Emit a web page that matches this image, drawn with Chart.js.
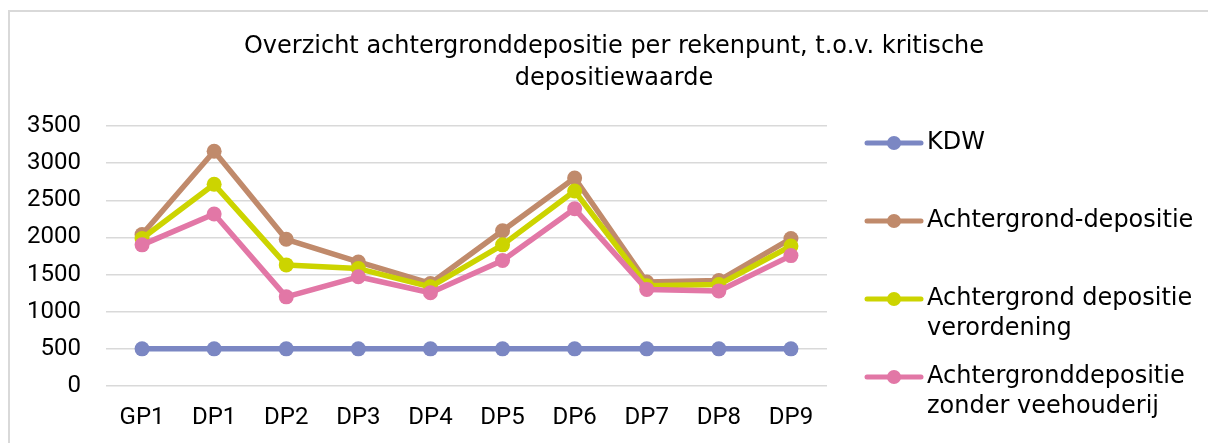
<!DOCTYPE html>
<html>
<head>
<meta charset="utf-8">
<script src="https://cdn.jsdelivr.net/npm/chart.js@4/dist/chart.umd.min.js"></script>
<style>
    body { margin: 0; background: #fff; overflow: hidden; }
    #frame {
        position: absolute; left: 8px; top: 10px;
        width: 1220px; height: 440px;
        border-left: 2px solid #d9d9d9; border-top: 2px solid #d9d9d9;
    }
    #wrap { position: absolute; left: 0; top: 0; width: 1208px; height: 431px; }
</style>
</head>
<body>
<div id="frame"><div id="wrap"><canvas id="grafiek"></canvas></div></div>
<script>
const rekenpunten = ['GP1', 'DP1', 'DP2', 'DP3', 'DP4', 'DP5', 'DP6', 'DP7', 'DP8', 'DP9'];
const kdw = [500, 500, 500, 500, 500, 500, 500, 500, 500, 500];
const achtergrond = [2040, 3160, 1975, 1670, 1380, 2090, 2800, 1400, 1420, 1985];
const verordening = [1985, 2715, 1630, 1580, 1335, 1900, 2625, 1350, 1365, 1885];
const zonderVeehouderij = [1900, 2315, 1200, 1470, 1255, 1690, 2385, 1300, 1280, 1755];
const seriesNames = ['KDW', 'Achtergrond-depositie', 'Achtergrond depositie\nverordening', 'Achtergronddepositie\nzonder veehouderij'];
const kleuren = ['#7b87c3', '#c08a6b', '#ccd400', '#e277a6'];
const yTicks = [0, 500, 1000, 1500, 2000, 2500, 3000, 3500];

const tekstFont = '"DejaVu Sans", sans-serif';

const reeksen = [kdw, achtergrond, verordening, zonderVeehouderij];
const datasets = reeksen.map((data, i) => ({
    label: seriesNames[i].replace('\n', ' '),
    data: data,
    borderColor: kleuren[i],
    backgroundColor: kleuren[i],
    pointBackgroundColor: kleuren[i],
    pointBorderColor: kleuren[i],
    borderWidth: 5.5,
    borderJoinStyle: 'round',
    borderCapStyle: 'round',
    pointRadius: 7.5,
    pointBorderWidth: 0,
    tension: 0,
    order: reeksen.length - 1 - i
}));

// legenda zelf tekenen, want die heeft regels over twee lijnen
const legendaPlugin = {
    id: 'legenda',
    afterDraw(chart) {
        const ctx = chart.ctx;
        const x0 = chart.chartArea.right + 40;
        let y = chart.chartArea.top + 17;
        ctx.save();
        ctx.font = '24px ' + tekstFont;
        ctx.textBaseline = 'middle';
        chart.data.datasets.forEach((ds, i) => {
            ctx.strokeStyle = kleuren[i];
            ctx.lineWidth = 5;
            ctx.lineCap = 'round';
            ctx.beginPath();
            ctx.moveTo(x0, y);
            ctx.lineTo(x0 + 54, y);
            ctx.stroke();
            ctx.fillStyle = kleuren[i];
            ctx.beginPath();
            ctx.arc(x0 + 27, y, 7, 0, Math.PI * 2);
            ctx.fill();
            ctx.fillStyle = '#000';
            seriesNames[i].split('\n').forEach((regel, j) => {
                ctx.fillText(regel, x0 + 60, y + j * 30);
            });
            y += 78;
        });
        ctx.restore();
    }
};

new Chart(document.getElementById('grafiek'), {
    type: 'line',
    data: { labels: rekenpunten, datasets: datasets },
    plugins: [legendaPlugin],
    options: {
        responsive: true,
        maintainAspectRatio: false,
        animation: false,
        layout: { padding: 0 },
        plugins: {
            legend: { display: false },
            tooltip: { enabled: false },
            title: {
                display: true,
                text: ['Overzicht achtergronddepositie per rekenpunt, t.o.v. kritische', 'depositiewaarde'],
                color: '#000',
                font: { family: tekstFont, size: 24, weight: 'normal', lineHeight: 1.333 },
                padding: { top: 19, bottom: 31 }
            }
        },
        scales: {
            x: {
                offset: true,
                grid: { display: false, drawTicks: false },
                border: { display: false },
                ticks: { color: '#000', padding: 18, font: { family: 'Roboto', size: 24 } },
                afterFit: s => { s.height = 57; }
            },
            y: {
                min: 0,
                max: 3500,
                afterBuildTicks: axis => { axis.ticks = yTicks.map(v => ({ value: v })); },
                grid: { color: '#d9d9d9', lineWidth: 1.5, drawTicks: false },
                border: { display: false },
                ticks: { color: '#000', padding: 25, font: { family: 'Roboto', size: 24 }, callback: v => String(v) },
                afterFit: s => { s.width = 96; }
            },
            // lege as rechts: ruimte voor de legenda
            ruimte: {
                type: 'linear',
                position: 'right',
                grid: { display: false },
                border: { display: false },
                ticks: { display: false },
                afterFit: s => { s.width = 391; }
            }
        }
    }
});
</script>
</body>
</html>
